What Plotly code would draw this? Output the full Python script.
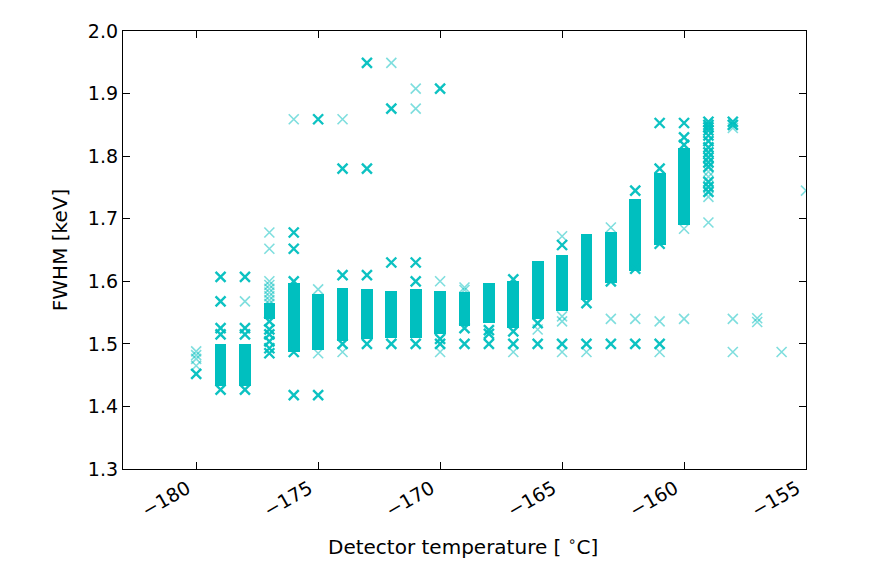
import plotly.graph_objects as go

# Dense columns of measurements (solid regions): temperature, lowest and highest FWHM
col_temp = [-179, -178, -177, -176, -175, -174, -173, -172, -171, -170,
            -169, -168, -167, -166, -165, -164, -163, -162, -161, -160]
col_low = [1.432, 1.432, 1.540, 1.487, 1.490, 1.505, 1.507, 1.510, 1.510, 1.515,
           1.528, 1.533, 1.525, 1.539, 1.552, 1.570, 1.598, 1.616, 1.658, 1.690]
col_high = [1.500, 1.500, 1.565, 1.598, 1.580, 1.590, 1.588, 1.585, 1.588, 1.585,
            1.583, 1.597, 1.600, 1.632, 1.642, 1.675, 1.678, 1.731, 1.773, 1.813]

# Overlapping (darker) individual points
dark_temp = ([-180] + [-179]*5 + [-178]*4 + [-177]*6 + [-176]*5 + [-175]*2 + [-174]*3 +
             [-173]*4 + [-172]*3 + [-171]*3 + [-170]*3 + [-169]*2 + [-168]*3 + [-167]*3 +
             [-166]*2 + [-165]*2 + [-164]*2 + [-163]*2 + [-162]*3 + [-161]*4 + [-160]*3 +
             [-159]*14 + [-158]*2)
dark_fwhm = [1.452,
             1.607, 1.568, 1.525, 1.515, 1.427,
             1.607, 1.525, 1.515, 1.427,
             1.536, 1.523, 1.515, 1.504, 1.493, 1.485,
             1.678, 1.652, 1.600, 1.487, 1.418,
             1.859, 1.418,
             1.780, 1.610, 1.500,
             1.949, 1.780, 1.610, 1.500,
             1.876, 1.630, 1.500,
             1.630, 1.600, 1.500,
             1.908, 1.508, 1.500,
             1.525, 1.500,
             1.522, 1.516, 1.500,
             1.603, 1.520, 1.500,
             1.533, 1.500,
             1.658, 1.500,
             1.565, 1.500,
             1.600, 1.500,
             1.745, 1.620, 1.500,
             1.853, 1.780, 1.660, 1.500,
             1.853, 1.830, 1.818,
             1.855, 1.850, 1.846, 1.841, 1.833, 1.824, 1.814, 1.806, 1.798, 1.790,
             1.783, 1.759, 1.751, 1.743,
             1.855, 1.850]

# Single (lighter) points
light_temp = ([-180]*4 + [-178] + [-177]*9 + [-176] + [-175]*2 + [-174]*2 + [-172] +
              [-171]*2 + [-170]*2 + [-169]*2 + [-167] + [-166] + [-165]*4 + [-164] +
              [-163]*2 + [-162] + [-161]*2 + [-160]*2 + [-159]*4 + [-158]*3 +
              [-157]*2 + [-156] + [-155])
light_fwhm = [1.488, 1.482, 1.476, 1.465,
              1.568,
              1.678, 1.652, 1.600, 1.594, 1.588, 1.582, 1.576, 1.570, 1.564,
              1.859,
              1.587, 1.485,
              1.859, 1.487,
              1.949,
              1.908, 1.876,
              1.600, 1.487,
              1.590, 1.586,
              1.487,
              1.523,
              1.672, 1.544, 1.536, 1.487,
              1.487,
              1.686, 1.540,
              1.540,
              1.536, 1.487,
              1.684, 1.540,
              1.775, 1.767, 1.735, 1.694,
              1.845, 1.540, 1.487,
              1.541, 1.535,
              1.487,
              1.745]

x_ticks = [-180, -175, -170, -165, -160, -155]
x_tick_labels = ["\u2212180", "\u2212175", "\u2212170", "\u2212165", "\u2212160", "\u2212155"]
y_ticks = [1.3, 1.4, 1.5, 1.6, 1.7, 1.8, 1.9, 2.0]
y_tick_labels = ["1.3", "1.4", "1.5", "1.6", "1.7", "1.8", "1.9", "2.0"]

C = "#00BFBF"
FONT = "DejaVu Sans"

fig = go.Figure()
fig.add_trace(go.Bar(
    x=col_temp, base=col_low, y=[h - l for h, l in zip(col_high, col_low)],
    width=0.48, marker=dict(color=C, line=dict(width=0)), showlegend=False,
))
fig.add_trace(go.Scatter(
    x=light_temp, y=light_fwhm, mode="markers", showlegend=False,
    marker=dict(symbol="x-thin", size=10, opacity=0.5,
                line=dict(color=C, width=1.6)),
))
fig.add_trace(go.Scatter(
    x=dark_temp, y=dark_fwhm, mode="markers", showlegend=False,
    marker=dict(symbol="x-thin", size=10, opacity=0.95,
                line=dict(color=C, width=2.4)),
))

axis_common = dict(showline=True, linecolor="black", linewidth=1.3, mirror="ticks",
                   ticks="inside", ticklen=7, tickwidth=1, tickcolor="black",
                   showgrid=False, zeroline=False,
                   tickfont=dict(family=FONT, size=19, color="black"))

fig.update_xaxes(range=[-183, -155], tickvals=x_ticks, ticktext=x_tick_labels,
                 tickangle=-30, ticklabelshift=-9, **axis_common)
fig.update_yaxes(range=[1.3, 2.0], tickvals=y_ticks, ticktext=y_tick_labels,
                 **axis_common)

fig.add_annotation(text="Detector temperature [ <sup>\u2218</sup>C]", xref="paper", yref="paper",
                   x=0.498, y=-0.175, xanchor="center", yanchor="middle", showarrow=False,
                   font=dict(family=FONT, size=20, color="black"))
fig.add_annotation(text="FWHM [keV]", xref="paper", yref="paper",
                   x=-0.092, y=0.5, xanchor="center", yanchor="middle", showarrow=False,
                   textangle=-90, font=dict(family=FONT, size=20, color="black"))

fig.update_layout(width=871, height=572, margin=dict(l=115, r=73, t=20, b=111),
                  paper_bgcolor="white", plot_bgcolor="white", bargap=0)

fig.write_html("out.html")
